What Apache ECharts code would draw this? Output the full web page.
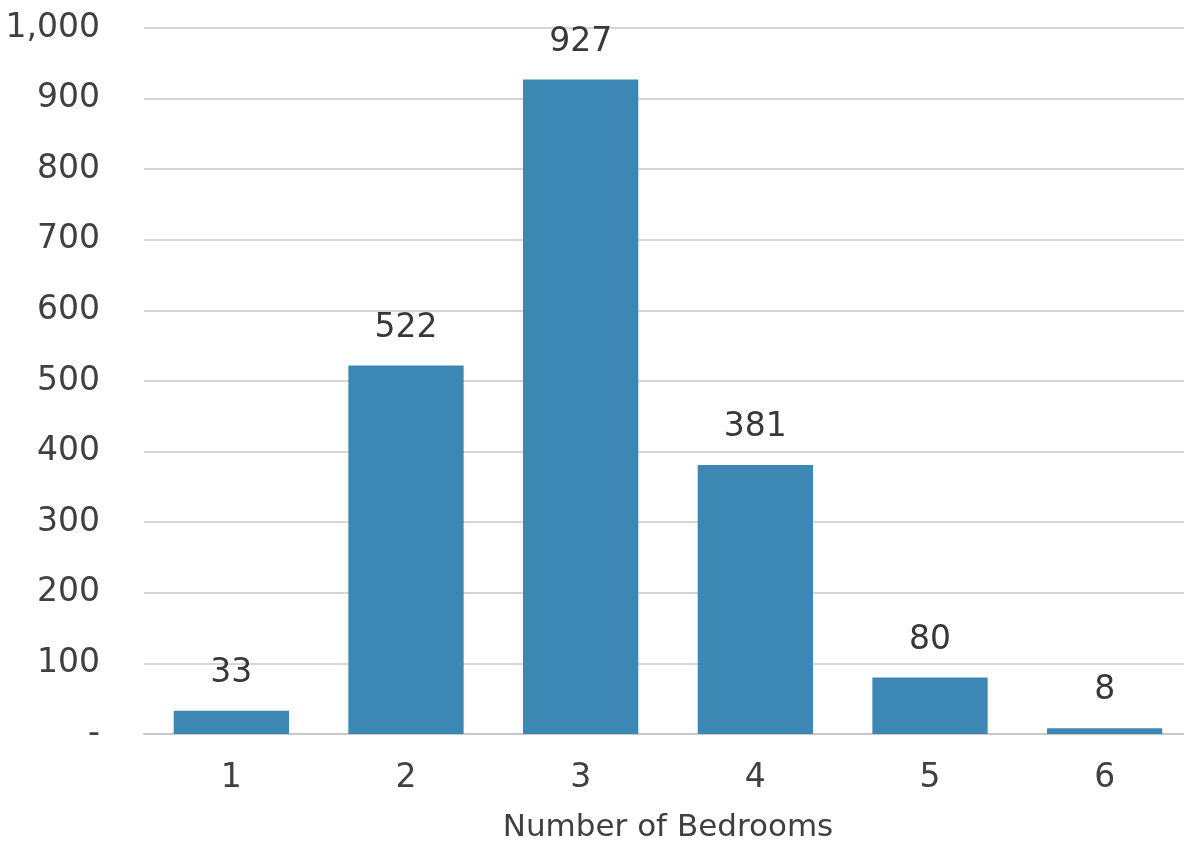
<!DOCTYPE html>
<html>
<head>
<meta charset="utf-8">
<script src="https://cdn.jsdelivr.net/npm/echarts@6/dist/echarts.min.js"></script>
<style>
html,body{margin:0;padding:0;background:#fff;overflow:hidden;width:1184px;height:848px;}
#c{width:1200px;height:848px;}
</style>
</head>
<body>
<div id="c"></div>
<script>
const categories = ['1', '2', '3', '4', '5', '6'];
const counts = [33, 522, 927, 381, 80, 8];
const xAxisTitle = 'Number of Bedrooms';

const FONT = '"DejaVu Sans", Lato, sans-serif';
const chart = echarts.init(document.getElementById('c'));
chart.setOption({
  animation: false,
  backgroundColor: '#fff',
  textStyle: { fontFamily: FONT },
  grid: { left: 144, right: 8, top: 28, bottom: 111 },
  xAxis: {
    type: 'category',
    data: categories,
    name: xAxisTitle,
    nameLocation: 'middle',
    nameGap: 78,
    nameTextStyle: { fontSize: 31, color: '#404040', fontFamily: FONT },
    axisLine: { lineStyle: { color: '#c8c8c8', width: 2 } },
    axisTick: { show: false },
    axisLabel: { fontSize: 33, color: '#404040', margin: 28, fontFamily: FONT }
  },
  yAxis: {
    type: 'value',
    min: 0, max: 1000, interval: 100,
    axisLine: { show: false },
    axisTick: { show: false },
    splitLine: { lineStyle: { color: '#d6d6d6', width: 2 } },
    axisLabel: {
      fontSize: 33, color: '#404040', margin: 44, fontFamily: FONT,
      formatter: v => v === 0 ? '-' : v.toLocaleString('en-US')
    }
  },
  series: [{
    type: 'bar',
    data: counts,
    barWidth: '66%',
    itemStyle: { color: '#3d87b4' },
    label: { show: true, position: 'top', distance: 21, fontSize: 33, color: '#383838', fontFamily: FONT }
  }]
});
</script>
</body>
</html>
